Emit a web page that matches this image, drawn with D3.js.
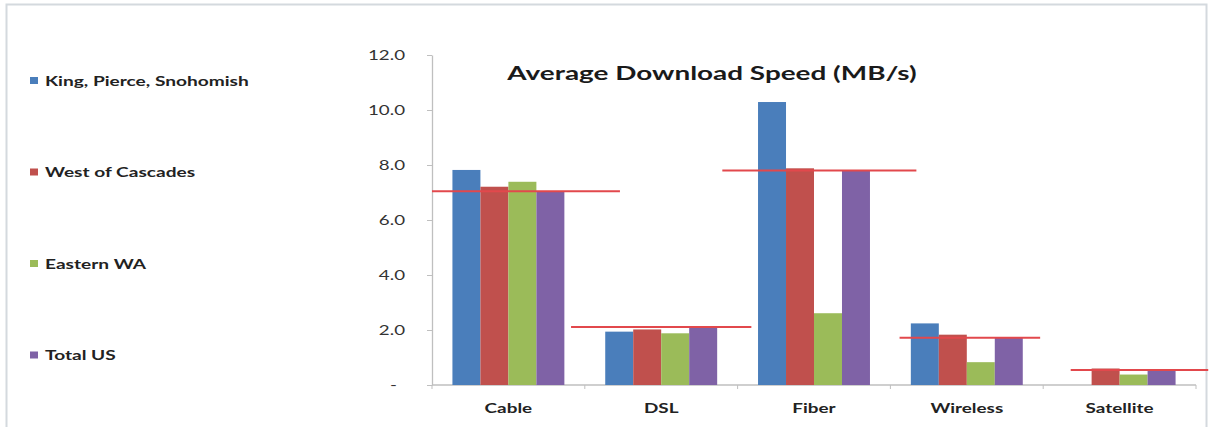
<!DOCTYPE html>
<html>
<head>
<meta charset="utf-8">
<script src="https://cdn.jsdelivr.net/npm/d3@7"></script>
<style>
  html, body { margin: 0; padding: 0; background: #ffffff; }
  svg { display: block; }
  text { font-family: Lato, "Open Sans", sans-serif; }
</style>
</head>
<body>
<svg id="chart" width="1210" height="427"></svg>
<script>
// Connection types along the x axis
const categories = ["Cable", "DSL", "Fiber", "Wireless", "Satellite"];

// Series names, in legend order
const seriesNames = ["King, Pierce, Snohomish", "West of Cascades", "Eastern WA", "Total US"];

// Average download speed (MB/s) per series, one value per connection type
const kingPierceSnohomish = [7.82, 1.94, 10.29, 2.24, 0.0];
const westOfCascades      = [7.21, 2.02, 7.88, 1.83, 0.60];
const easternWA           = [7.39, 1.88, 2.61, 0.83, 0.38];
const totalUS             = [7.05, 2.11, 7.80, 1.72, 0.55];

// Y axis ticks
const yTicks = [0, 2, 4, 6, 8, 10, 12];
const titleText = "Average Download Speed (MB/s)";

// ---- styling / layout ----
const colors = ["#4a7ebb", "#c0504d", "#9bbb59", "#7f62a6"];
const avgLineColor = "#e2484c";
// horizontal extent of each national-average line, in band widths from the band start
const avgLineSpan = [[0.0, 1.23], [-0.09, 1.09], [-0.10, 1.17], [0.06, 0.98], [0.18, 1.08]];

const plot = { left: 432, right: 1196, top: 55, bottom: 385 };

const svg = d3.select("#chart");

// outer frame of the chart area
svg.append("rect")
  .attr("x", 6.5).attr("y", 4.5)
  .attr("width", 1200).attr("height", 440)
  .attr("fill", "#ffffff")
  .attr("stroke", "#d4d9de")
  .attr("stroke-width", 2);

const seriesValues = [kingPierceSnohomish, westOfCascades, easternWA, totalUS];

const x0 = d3.scaleBand().domain(categories).range([plot.left, plot.right]).padding(0);
const x1 = d3.scaleBand().domain(seriesNames).range([0, x0.bandwidth()])
  .paddingInner(0).paddingOuter(0.73);
const y = d3.scaleLinear().domain([0, 12]).range([plot.bottom, plot.top]);

// helper: horizontally stretched text
function stretchedText(parent, x, yPos, str, opts) {
  const sx = opts.sx || 1;
  return parent.append("text")
    .attr("transform", `translate(${x},${yPos}) scale(${sx},1)`)
    .attr("text-anchor", opts.anchor || "start")
    .attr("font-size", opts.size)
    .attr("font-weight", opts.weight || "normal")
    .attr("fill", opts.fill || "#222")
    .text(str);
}

// ---- Y axis ----
const yAxisG = svg.append("g")
  .attr("transform", `translate(${plot.left},0)`)
  .call(d3.axisLeft(y).tickValues(yTicks).tickSize(5).tickSizeOuter(0)
    .tickFormat(d => d === 0 ? "-" : d3.format(".1f")(d)));
yAxisG.select(".domain").attr("stroke", "#bfbfbf").attr("stroke-width", 1.3);
yAxisG.selectAll(".tick line").attr("stroke", "#bfbfbf");
const tickSx = 1.5;
yAxisG.selectAll(".tick text")
  .attr("font-family", "Lato, sans-serif")
  .attr("font-size", 12.5)
  .attr("fill", "#333")
  .attr("x", d => (d === 0 ? -35 : -27) / tickSx)
  .attr("transform", `scale(${tickSx},1)`);

// ---- X axis ----
const xAxisG = svg.append("g")
  .attr("transform", `translate(0,${plot.bottom})`);
xAxisG.append("line")
  .attr("x1", plot.left).attr("x2", plot.right)
  .attr("y1", 0).attr("y2", 0)
  .attr("stroke", "#bfbfbf").attr("stroke-width", 1.3);
xAxisG.selectAll("line.tick")
  .data(categories.concat(["end"]))
  .join("line")
  .attr("class", "tick")
  .attr("x1", (d, i) => plot.left + i * x0.step())
  .attr("x2", (d, i) => plot.left + i * x0.step())
  .attr("y1", 0).attr("y2", 4)
  .attr("stroke", "#bfbfbf");
categories.forEach(c => {
  stretchedText(svg, x0(c) + x0.bandwidth() / 2, 413, c,
    { anchor: "middle", size: 14, weight: "bold", sx: 1.35, fill: "#222" });
});

// ---- Bars ----
const groups = svg.append("g").selectAll("g")
  .data(categories)
  .join("g")
  .attr("transform", c => `translate(${x0(c)},0)`);

groups.selectAll("rect")
  .data((c, ci) => seriesNames.map((s, si) => ({ s, si, v: seriesValues[si][ci] })))
  .join("rect")
  .attr("x", d => x1(d.s))
  .attr("width", x1.bandwidth())
  .attr("y", d => y(d.v))
  .attr("height", d => y(0) - y(d.v))
  .attr("fill", d => colors[d.si]);

// ---- National average lines ----
svg.append("g").selectAll("line")
  .data(categories)
  .join("line")
  .attr("x1", (c, i) => x0(c) + avgLineSpan[i][0] * x0.bandwidth())
  .attr("x2", (c, i) => x0(c) + avgLineSpan[i][1] * x0.bandwidth())
  .attr("y1", (c, i) => y(totalUS[i]))
  .attr("y2", (c, i) => y(totalUS[i]))
  .attr("stroke", avgLineColor)
  .attr("stroke-width", 2);

// ---- Title ----
stretchedText(svg, 712, 80, titleText,
  { anchor: "middle", size: 18, weight: "bold", sx: 1.55, fill: "#1a1a1a" });

// ---- Legend ----
const legend = svg.append("g");
seriesNames.forEach((name, i) => {
  const cy = 81 + i * 91.5;
  legend.append("rect")
    .attr("x", 30).attr("y", cy - 4)
    .attr("width", 8).attr("height", 7)
    .attr("fill", colors[i]);
  stretchedText(legend, 45, cy + 4.5, name,
    { size: 13, weight: "bold", sx: 1.47, fill: "#222" });
});
</script>
</body>
</html>
